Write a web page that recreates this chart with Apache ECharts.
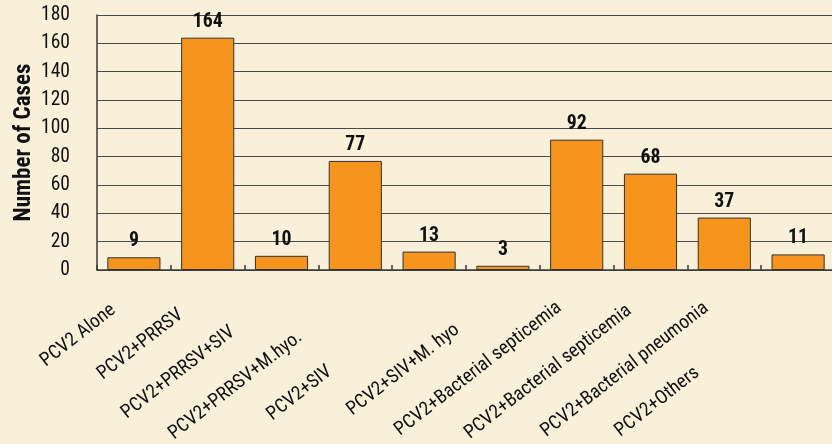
<!DOCTYPE html>
<html><head><meta charset="utf-8">
<script src="https://cdn.jsdelivr.net/npm/echarts@6/dist/echarts.min.js"></script>
<style>html,body{margin:0;padding:0;background:#F9F0DA}#c{width:832px;height:444px}</style>
</head><body><div id="c"></div>
<script>
const categories = ['PCV2 Alone','PCV2+PRRSV','PCV2+PRRSV+SIV','PCV2+PRRSV+M.hyo.','PCV2+SIV','PCV2+SIV+M. hyo','PCV2+Bacterial septicemia','PCV2+Bacterial septicemia','PCV2+Bacterial pneumonia','PCV2+Others'];
const cases = [9,164,10,77,13,3,92,68,37,11];
const yMin = 0, yMax = 180, yStep = 20;
const yTitle = 'Number of Cases';

// layout only: shift of each category label along its rotated baseline
const labelShift = [26,34,62,70,126,58,22,27,23,128];

// choose the installed font closest to the reference's condensed proportions,
// then size each text between the reference width and cap height
const ctx = document.createElement('canvas').getContext('2d');
const probe = 'PCV2+Bacterial septicemia 0123456789';
function w(f, s){ ctx.font = f; return ctx.measureText(s || probe).width; }
function capH(f){ ctx.font = f; return ctx.measureText('H').actualBoundingBoxAscent; }
function hasFamily(fam){
  return w("20px monospace") !== w("20px '"+fam+"', monospace") || w("20px serif") !== w("20px '"+fam+"', serif");
}
const cands = [];
for (const fam of ['Liberation Sans Narrow','Arial Narrow','Noto Sans Condensed','DejaVu Sans Condensed','Roboto Condensed','Open Sans Condensed']) {
  if (hasFamily(fam)) cands.push({family:"'"+fam+"', sans-serif", style:'normal'});
}
for (const fam of ['Noto Sans','Open Sans','Roboto']) {
  for (const st of ['condensed','semi-condensed']) {
    if (hasFamily(fam) && w(st+" 20px '"+fam+"'") < 0.96*w("20px '"+fam+"'")) cands.push({family:"'"+fam+"', sans-serif", style:st});
  }
}
cands.push({family:"'Liberation Sans', Arial, sans-serif", style:'normal'});
let pick = cands[0], best = 1e9;
for (const c of cands) {
  const f = c.style+" normal 100px "+c.family;
  const r = w(f,'0123456789')/10/capH(f);
  const d = Math.abs(r - 0.69);
  if (d < best) { best = d; pick = c; }
}
function sizeFor(text, targetW, targetCap, weight){
  const f = pick.style+' '+weight+' 100px '+pick.family;
  const sW = 100*targetW/w(f, text), sH = 100*targetCap/capH(f);
  return Math.round(Math.sqrt(sW*sH)*10)/10;
}
const szCat = sizeFor('PCV2+Bacterial pneumonia', 211, 13.5, 'normal');
const szTick = sizeFor('180', 29, 14, 'normal');
const szVal = sizeFor('164', 30.5, 14, 'bold');
const szName = sizeFor(yTitle, 164, 16, 'bold');

const chart = echarts.init(document.getElementById('c'), null, {renderer:'canvas'});
const catData = categories.map((c,i)=>({value:c, textStyle:{padding:[0,labelShift[i],0,0]}}));
const txt = (size, bold) => ({fontSize:size, fontWeight: bold ? 'bold':'normal', fontStyle:pick.style, fontFamily:pick.family, color:'#111'});
chart.setOption({
  backgroundColor:'#F9F0DA',
  animation:false,
  grid:{left:97, right:-3, top:15, bottom:174, outerBoundsMode:'none', containLabel:false},
  xAxis:{
    type:'category', data:catData,
    axisLine:{lineStyle:{color:'#3a3a3a', width:1.5}},
    axisTick:{show:true, inside:true, length:5, alignWithLabel:false, lineStyle:{color:'#3a3a3a', width:1.5}},
    axisLabel:Object.assign({rotate:38, interval:0, margin:22, hideOverlap:false}, txt(szCat,false))
  },
  yAxis:{
    type:'value', min:yMin, max:yMax, interval:yStep,
    name:yTitle, nameLocation:'middle', nameGap:61, nameMoveOverlap:false,
    nameTextStyle:txt(szName,true),
    axisLine:{show:true, lineStyle:{color:'#3a3a3a', width:1.5}},
    axisTick:{show:false},
    axisLabel:Object.assign({margin:27}, txt(szTick,false)),
    splitLine:{show:true, lineStyle:{color:'#4a4a4a', width:1}}
  },
  series:[{
    type:'bar', data:cases, barWidth:'72%',
    itemStyle:{color:'#F7941E', borderColor:'#333', borderWidth:1},
    label:Object.assign({show:true, position:'top', distance:6}, txt(szVal,true))
  }]
});
</script></body></html>
